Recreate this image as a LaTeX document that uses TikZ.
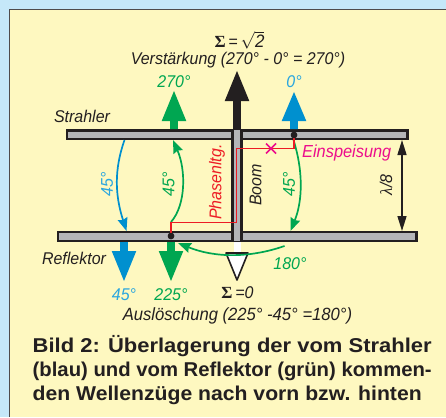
\documentclass[tikz,border=0pt]{standalone}
\usepackage{fontspec}
\usepackage{graphicx}
\setmainfont{Liberation Sans}
\newfontfamily\serifgreek{Liberation Serif}
\newfontfamily\labfont[FakeStretch=0.94]{Liberation Sans}
\usetikzlibrary{arrows.meta}
\definecolor{panelbg}{HTML}{FEF8C0}
\definecolor{pagebg}{HTML}{C5E8F9}
\definecolor{ink}{HTML}{231F20}
\definecolor{barfill}{HTML}{B4B5B8}
\definecolor{grn}{HTML}{00A651}
\definecolor{blu}{HTML}{0090CF}
\definecolor{blutxt}{HTML}{2AA6DF}
\definecolor{redl}{HTML}{ED1C24}
\definecolor{mag}{HTML}{EC0D8C}
\tikzset{
  x=1pt,y=-1pt,
  lab/.style={inner sep=0pt,font=\labfont\fontsize{17}{17}\selectfont\itshape,text=ink},
  capline/.style={anchor=base west,inner sep=0pt,text=ink,font=\fontsize{20}{20}\selectfont\bfseries},
  bar/.style={draw=ink,line width=2.2pt,fill=barfill},
  arc/.style={line width=1.7pt,-{Stealth[length=13pt,width=10pt,inset=1.5pt]}},
  wire/.style={draw=redl,line width=1.8pt,line join=miter},
  feed/.style={circle,fill=ink,minimum size=6.5pt,inner sep=0pt},
}
\newcommand{\blockup}[4]{% x, tip, base, shaft end
  \fill (#1,#2) -- (#1+12.3,#3) -- (#1+3.8,#3) -- (#1+3.8,#4) -- (#1-3.8,#4) -- (#1-3.8,#3) -- (#1-12.3,#3) -- cycle;}
\begin{document}
\begin{tikzpicture}
\useasboundingbox (0,0) rectangle (446,417);
\fill[pagebg] (0,0) rectangle (446,417);
\fill[panelbg] (9.5,9) rectangle (446,417);
\draw[ink!80,line width=0.7pt] (9.5,417) -- (9.5,9) -- (446,9);
% bars
\draw[bar] (67,130.5) rectangle (407.5,139);
\draw[bar] (58,232) rectangle (416.5,241);
\fill[barfill] (233,130) rectangle (241,241);
\draw[ink,line width=2.2pt] (232.5,129) -- (232.5,242) (241.5,129) -- (241.5,242);
% block arrows
\begin{scope}[ink]\blockup{237}{71}{101}{129}\end{scope}
\begin{scope}[grn]\blockup{174}{91}{121}{129}\end{scope}
\begin{scope}[blu]\blockup{294}{92}{121}{129}\end{scope}
\begin{scope}[blu]\blockup{124}{281}{251}{242}\end{scope}
\begin{scope}[grn]\blockup{171}{281}{251}{242}\end{scope}
\fill[white] (234,242.2) rectangle (240.5,253);
\draw[ink,line width=1.6pt,fill=white,line join=round] (237,280) -- (226,253) -- (248,253) -- cycle;
% coordinates
\coordinate (blueTop) at (124.5,140);
\coordinate (blueBot) at (126.5,231);
\coordinate (greenTop) at (173,140);
\coordinate (greenBot) at (171,222);
\coordinate (rightTop) at (293.5,140);
\coordinate (rightBot) at (290.5,231);
\coordinate (arcStart) at (284.5,246);
\coordinate (arcEnd) at (178,243);
\coordinate (lamTop) at (402,140);
\coordinate (lamBot) at (402,231);
% curved arrows
\draw[arc,blu] (blueTop) .. controls (114,170) and (115,195) .. (blueBot);
\draw[arc,grn] (greenBot) .. controls (186,205) and (186,170) .. (greenTop);
\draw[arc,grn] (rightTop) .. controls (303,170) and (303,200) .. (rightBot);
\draw[arc,grn] (arcStart) .. controls (250,258) and (215,258) .. (arcEnd);
% spacing arrow
\draw[ink,line width=1.5pt,{Stealth[length=15pt,width=9pt,inset=0pt]}-{Stealth[length=15pt,width=9pt,inset=0pt]}] (lamTop) -- (lamBot);
% phase line
\node[feed] (dotS) at (294,135) {};
\node[feed] (dotR) at (171,236) {};
\draw[wire] (dotR.center) -- (171,222.5) -- (236.5,222.5) -- (236.5,148.5) -- (294,148.5) -- (dotS.center);
\node[feed] at (294,135) {};
\node[feed] at (171,236) {};
\draw[mag,line width=1.7pt] (266,143.5) -- (276,153.5) (276,143.5) -- (266,153.5);
% labels
\node[lab] (sum) at (239.5,40) {\fontsize{17}{17}\selectfont\upshape\bfseries\serifgreek Σ\,{\labfont\mdseries\itshape=}\,$\sqrt{\mbox{\fontsize{18}{18}\selectfont\labfont\mdseries\itshape 2}}$};
\node[lab] (gain) at (238,60.5) {Verstärkung (270° - 0° = 270°)};
\node[lab,text=grn] at (174,81.5) {270°};
\node[lab,text=blutxt] at (294,81.5) {0°};
\node[lab] at (82,116) {Strahler};
\node[lab,anchor=west,text=mag,font=\labfont\fontsize{17.4}{17}\selectfont\itshape] at (302,153.5) {Einspeisung};
\node[lab,rotate=90,text=blutxt] at (107,184.5) {45°};
\node[lab,rotate=90,text=grn] at (168.5,184) {45°};
\node[lab,rotate=90,text=grn] at (289,184) {45°};
\node[lab,rotate=90,text=redl] at (217,182) {Phasenltg.};
\node[lab,rotate=90] at (255.5,185) {Boom};
\node[lab,rotate=90] at (386,185) {{\serifgreek λ}/8};
\node[lab] at (74,258) {Reflektor};
\node[lab,text=grn] at (290,264) {180°};
\node[lab,text=blutxt] at (124,295) {45°};
\node[lab,text=grn] at (171,295) {225°};
\node[lab] at (237.5,293) {{\upshape\bfseries\serifgreek Σ}\,=0};
\node[lab,font=\labfont\fontsize{17.7}{18}\selectfont\itshape] (loss) at (237.5,316) {Auslöschung (225° -45° =180°)};
\node[capline] (cap1) at (32.5,352) {\resizebox{399pt}{\height}{Bild 2: Überlagerung der vom Strahler}};
\node[capline] (cap2) at (32.5,376.5) {\resizebox{399pt}{\height}{(blau) und vom Reflektor (grün) kommen-}};
\node[capline] (cap3) at (32.5,400.5) {\resizebox{389pt}{\height}{den Wellenzüge nach vorn bzw. hinten}};
\end{tikzpicture}
\end{document}
